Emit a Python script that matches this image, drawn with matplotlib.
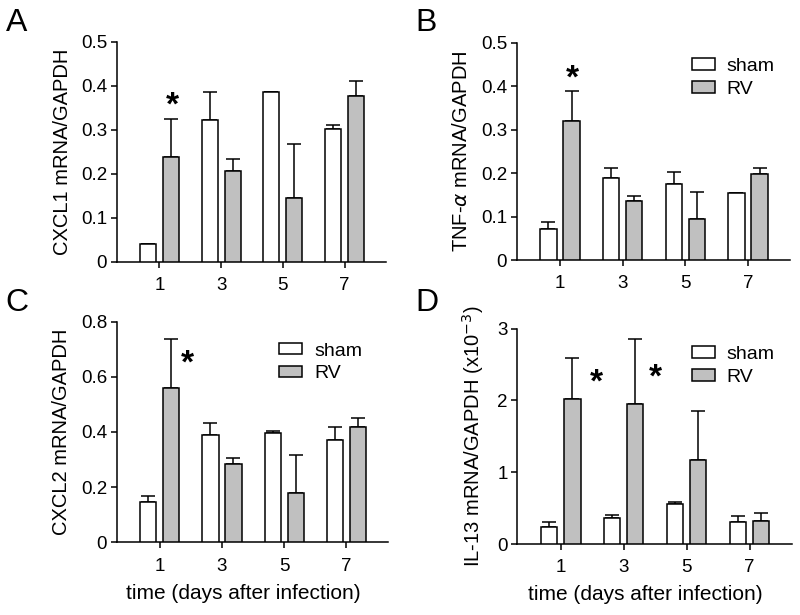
import numpy as np
from matplotlib import pyplot as plt

plt.rcParams['font.family'] = ['Liberation Sans', 'DejaVu Sans']

days = ['1', '3', '5', '7']

cxcl1Sham = [0.040, 0.322, 0.385, 0.302]
cxcl1ShamErr = [0.0, 0.064, 0.0, 0.008]
cxcl1Rv = [0.238, 0.207, 0.145, 0.376]
cxcl1RvErr = [0.087, 0.028, 0.122, 0.034]

tnfSham = [0.072, 0.188, 0.176, 0.155]
tnfShamErr = [0.016, 0.024, 0.027, 0.0]
tnfRv = [0.320, 0.136, 0.095, 0.198]
tnfRvErr = [0.070, 0.012, 0.061, 0.013]

cxcl2Sham = [0.147, 0.389, 0.397, 0.371]
cxcl2ShamErr = [0.022, 0.044, 0.005, 0.046]
cxcl2Rv = [0.561, 0.284, 0.178, 0.418]
cxcl2RvErr = [0.177, 0.023, 0.140, 0.033]

il13Sham = [0.232, 0.367, 0.557, 0.302]
il13ShamErr = [0.068, 0.043, 0.028, 0.088]
il13Rv = [2.015, 1.946, 1.165, 0.316]
il13RvErr = [0.571, 0.904, 0.695, 0.114]

# significance marks (x in category units, y in data units)
starsA = [(0.21, 0.378)]
starsB = [(0.19, 0.442)]
starsC = [(0.45, 0.685)]
starsD = [(0.56, 2.40), (1.505, 2.47)]

grey = '#c0c0c0'
width = 0.26
offset = 0.185
lw = 1.1
tickSize = 13.5
labelSize = 14.5
starSize = 24


def panel(rect, letter, letterPos, sham, shamErr, rv, rvErr, ylim, yticks,
          yticklabels, ylabel, ylabelX, stars, legendPos=None, xlabel=False):
  ax = fig.add_axes(rect)
  x = np.arange(len(days))
  zeros = np.zeros(len(days))

  ax.bar(x - offset, sham, width, color='white', edgecolor='black',
         linewidth=lw, label='sham', zorder=3,
         yerr=[zeros, shamErr], error_kw=dict(ecolor='black', elinewidth=lw,
                                              capsize=5, capthick=lw, zorder=2))
  ax.bar(x + offset, rv, width, color=grey, edgecolor='black',
         linewidth=lw, label='RV', zorder=3,
         yerr=[zeros, rvErr], error_kw=dict(ecolor='black', elinewidth=lw,
                                            capsize=5, capthick=lw, zorder=2))

  for sx, sy in stars:
    ax.annotate('*', xy=(sx, sy), xytext=(0, -0.58 * starSize), textcoords='offset points',
                ha='center', va='baseline', fontsize=starSize, fontweight='bold')

  ax.set_xlim(-0.69, 3.67)
  ax.set_ylim(*ylim)
  ax.set_xticks(x)
  ax.set_xticklabels(days)
  ax.set_yticks(yticks)
  ax.set_yticklabels(yticklabels)
  ax.tick_params(axis='y', direction='out', length=4, width=lw, pad=3,
                 labelsize=tickSize)
  ax.tick_params(axis='x', direction='out', length=4, width=lw, pad=7,
                 labelsize=tickSize)
  for side in ['top', 'right']:
    ax.spines[side].set_visible(False)
  for side in ['left', 'bottom']:
    ax.spines[side].set_linewidth(lw)

  ax.set_ylabel(ylabel, fontsize=labelSize)
  ax.yaxis.set_label_coords(ylabelX, 0.5)
  if xlabel:
    ax.set_xlabel('time (days after infection)', fontsize=labelSize + 0.5)
    ax.xaxis.set_label_coords(0.465, -0.19)

  if legendPos is not None:
    ax.legend(loc='upper left', bbox_to_anchor=legendPos, frameon=False,
              fontsize=14, handlelength=1.2, handleheight=0.52,
              handletextpad=0.6, labelspacing=0.3, borderpad=0,
              borderaxespad=0)

  fig.text(letterPos[0], letterPos[1], letter, fontsize=23, ha='left', va='top')
  return ax


fig = plt.figure(figsize=(8, 6.15), dpi=100)

panel([0.146, 0.574, 0.3365, 0.358], 'A', (0.007, 0.987),
      cxcl1Sham, cxcl1ShamErr, cxcl1Rv, cxcl1RvErr,
      (0, 0.5), [0, 0.1, 0.2, 0.3, 0.4, 0.5],
      ['0', '0.1', '0.2', '0.3', '0.4', '0.5'],
      'CXCL1 mRNA/GAPDH', -0.168, starsA)

panel([0.646, 0.577, 0.3415, 0.3535], 'B', (0.519, 0.987),
      tnfSham, tnfShamErr, tnfRv, tnfRvErr,
      (0, 0.5), [0, 0.1, 0.2, 0.3, 0.4, 0.5],
      ['0', '0.1', '0.2', '0.3', '0.4', '0.5'],
      r'TNF-$\alpha$ mRNA/GAPDH', -0.168, starsB, legendPos=(0.64, 0.93))

panel([0.146, 0.1182, 0.339, 0.3588], 'C', (0.007, 0.532),
      cxcl2Sham, cxcl2ShamErr, cxcl2Rv, cxcl2RvErr,
      (0, 0.8), [0, 0.2, 0.4, 0.6, 0.8],
      ['0', '0.2', '0.4', '0.6', '0.8'],
      'CXCL2 mRNA/GAPDH', -0.168, starsC, legendPos=(0.598, 0.905), xlabel=True)

panel([0.6466, 0.1154, 0.343, 0.3501], 'D', (0.519, 0.532),
      il13Sham, il13ShamErr, il13Rv, il13RvErr,
      (0, 3), [0, 1, 2, 3], ['0', '1', '2', '3'],
      r'IL-13 mRNA/GAPDH (x10$^{-3}$)', -0.115, starsD,
      legendPos=(0.636, 0.92), xlabel=True)

fig.savefig('out.png', dpi=100)
